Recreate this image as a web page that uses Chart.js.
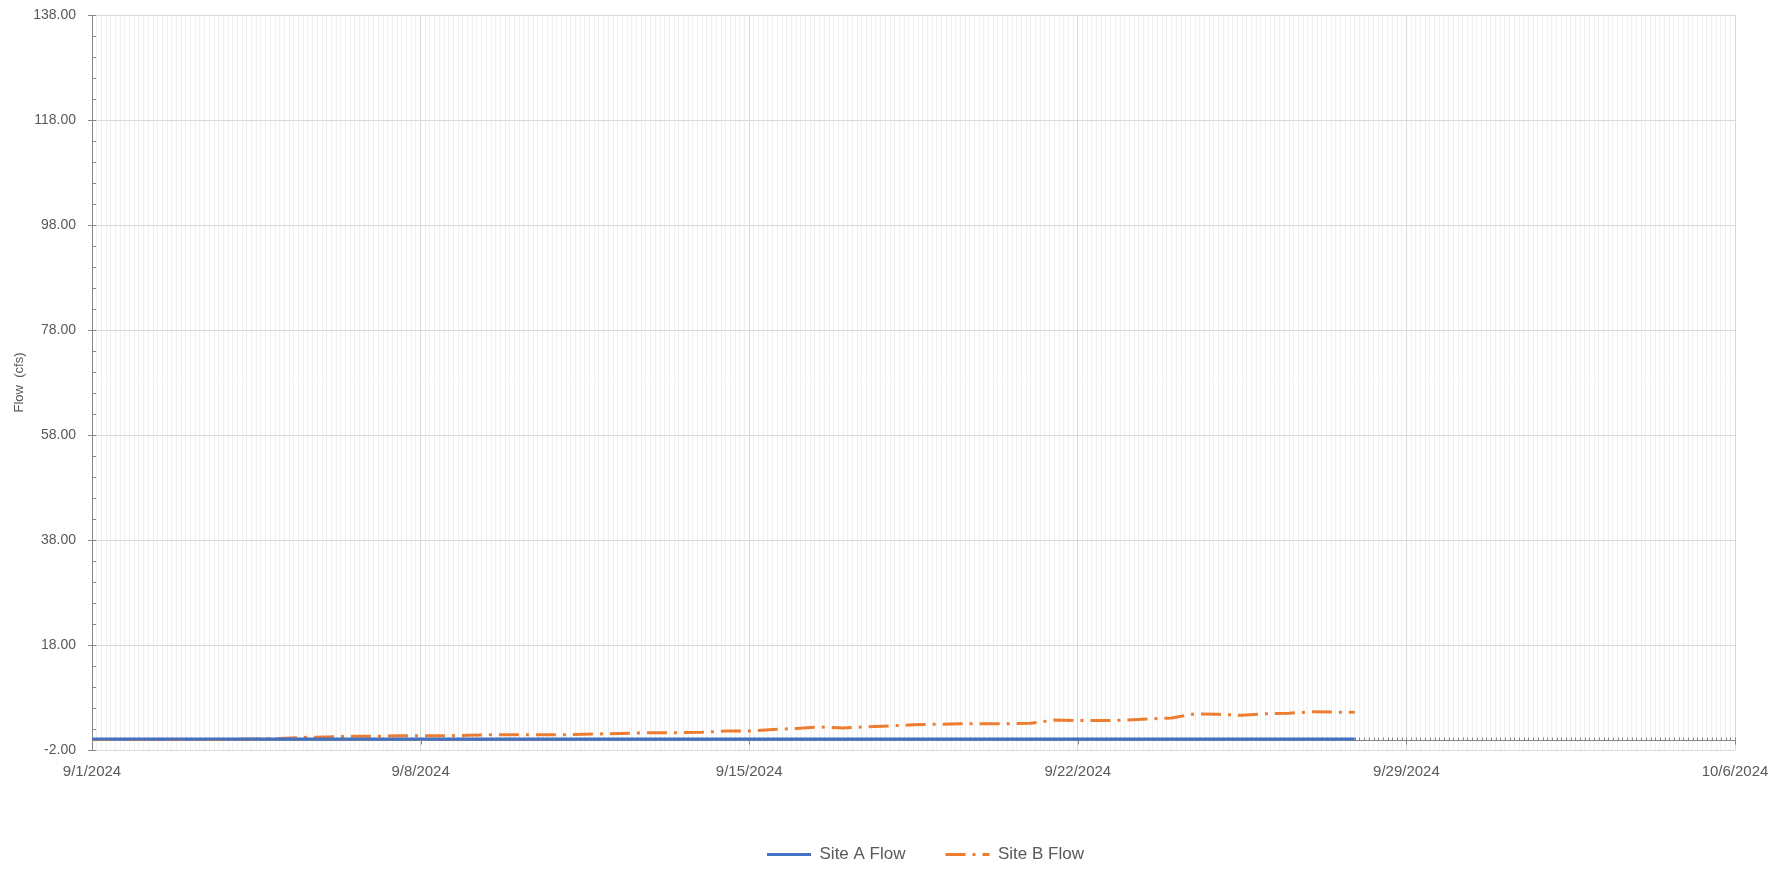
<!DOCTYPE html>
<html>
<head>
<meta charset="utf-8">
<script src="https://cdn.jsdelivr.net/npm/chart.js@4.4.1/dist/chart.umd.min.js"></script>
<style>
  html, body { margin: 0; padding: 0; background: #ffffff; }
  #wrap { width: 1790px; height: 870px; }
</style>
</head>
<body>
<div id="wrap"><canvas id="flowChart" width="1790" height="870"></canvas></div>
<script>
// days after 9/1/2024 00:00
const sampleDays = [
  0, 0.5, 1, 1.5, 2, 2.5, 3, 3.5, 4, 4.5,
  5, 5.5, 6, 6.5, 7, 7.5, 8, 8.5, 9, 9.5,
  10, 10.5, 11, 11.5, 12, 12.5, 13, 13.5, 14, 14.5,
  15, 15.5, 16, 16.5, 17, 17.5, 18, 18.5, 19, 19.5,
  20, 20.5, 21, 21.5, 22, 22.5, 23, 23.5, 24, 24.5,
  25, 25.5, 26, 26.5, 26.9
];

const siteAFlow = [
  0.1, 0.1, 0.1, 0.1, 0.1, 0.1, 0.1, 0.1, 0.1, 0.1,
  0.1, 0.1, 0.1, 0.1, 0.1, 0.1, 0.1, 0.1, 0.1, 0.1,
  0.1, 0.1, 0.1, 0.1, 0.1, 0.1, 0.1, 0.1, 0.1, 0.1,
  0.1, 0.1, 0.1, 0.1, 0.1, 0.1, 0.1, 0.1, 0.1, 0.1,
  0.1, 0.1, 0.1, 0.1, 0.1, 0.1, 0.1, 0.1, 0.1, 0.1,
  0.1, 0.1, 0.1, 0.1, 0.1
];

const siteBFlow = [
  0.0, 0.0, 0.0, 0.0, 0.0, 0.0, 0.0, 0.1, 0.2, 0.4,
  0.5, 0.6, 0.6, 0.7, 0.7, 0.7, 0.8, 0.9, 0.9, 0.9,
  0.9, 1.0, 1.1, 1.2, 1.3, 1.3, 1.4, 1.6, 1.6, 1.9,
  2.1, 2.4, 2.2, 2.4, 2.6, 2.8, 2.9, 3.0, 3.0, 3.0,
  3.1, 3.7, 3.6, 3.6, 3.7, 3.9, 4.1, 4.9, 4.8, 4.6,
  4.9, 5.0, 5.3, 5.2, 5.2
];

const seriesNames = ['Site A Flow', 'Site B Flow'];
const xRange = [0, 35];      // 9/1/2024 .. 10/6/2024
const yRange = [-2, 138];
const yStep = 20;
const dayStep = 7;

const axisGray = '#868686';
const textGray = '#595959';
const fontFamily = 'Liberation Sans, Arial, sans-serif';

function dayLabel(v) {
  const d = new Date(2024, 8, 1 + Math.round(v));
  return (d.getMonth() + 1) + '/' + d.getDate() + '/' + d.getFullYear();
}

function toPoints(xs, ys) {
  return xs.map((x, i) => ({ x: x, y: ys[i] }));
}

// axis line at zero with its small ticks, plus minor ticks on the value axis
const axisDecor = {
  id: 'axisDecor',
  afterLayout(chart) {
    // legend sits a bit right of the centre in the original
    chart.legend.left += 58;
    chart.legend.right += 58;
  },
  beforeDatasetsDraw(chart) {
    const { ctx, chartArea } = chart;
    const x = chart.scales.x;
    const y = chart.scales.y;
    const y0 = Math.round(y.getPixelForValue(0)) + 0.5;
    ctx.save();
    ctx.strokeStyle = axisGray;
    ctx.lineWidth = 1;
    ctx.beginPath();
    ctx.moveTo(chartArea.left, y0);
    ctx.lineTo(chartArea.right, y0);
    for (let i = 0; i <= 350; i++) {
      const px = Math.round(x.getPixelForValue(i / 10)) + 0.5;
      if (i % 70 === 0) {
        ctx.moveTo(px, y0 - 3);
        ctx.lineTo(px, y0 + 4);
      } else {
        ctx.moveTo(px, y0 - 3);
        ctx.lineTo(px, y0);
      }
    }
    for (let v = yRange[0]; v <= yRange[1]; v += 4) {
      const py = Math.round(y.getPixelForValue(v)) + 0.5;
      ctx.moveTo(chartArea.left, py);
      ctx.lineTo(chartArea.left + 4, py);
    }
    ctx.stroke();
    ctx.restore();
  }
};

new Chart(document.getElementById('flowChart'), {
  type: 'line',
  data: {
    datasets: [
      {
        label: seriesNames[0],
        data: toPoints(sampleDays, siteAFlow),
        borderColor: '#4472C4',
        backgroundColor: '#4472C4',
        borderWidth: 3,
        pointRadius: 0,
        pointStyle: 'line',
        tension: 0
      },
      {
        label: seriesNames[1],
        data: toPoints(sampleDays, siteBFlow),
        borderColor: '#ED7D31',
        backgroundColor: '#ED7D31',
        borderWidth: 3,
        borderDash: [20, 7, 3, 7],
        pointRadius: 0,
        pointStyle: 'line',
        tension: 0
      }
    ]
  },
  options: {
    responsive: false,
    animation: false,
    layout: { padding: { top: 15, right: 55, bottom: -3, left: 0 } },
    plugins: {
      tooltip: { enabled: false },
      legend: {
        position: 'bottom',
        labels: {
          usePointStyle: true,
          pointStyleWidth: 44,
          color: textGray,
          padding: 40,
          font: { family: fontFamily, size: 17 },
          generateLabels(chart) {
            const items = Chart.defaults.plugins.legend.labels.generateLabels(chart);
            items.forEach(it => {
              const ds = chart.data.datasets[it.datasetIndex];
              it.lineDash = ds.borderDash || [];
              it.lineWidth = ds.borderWidth;
              it.strokeStyle = ds.borderColor;
            });
            return items;
          }
        }
      }
    },
    scales: {
      xMinor: {
        type: 'linear',
        position: 'bottom',
        min: xRange[0],
        max: xRange[1],
        display: true,
        afterFit(scale) { scale.height = 0; },
        border: { display: false },
        ticks: { display: false, stepSize: 0.1, autoSkip: false },
        grid: {
          drawTicks: false,
          color(c) {
            const v = c.tick ? c.tick.value : 0;
            const r = v / dayStep;
            return Math.abs(r - Math.round(r)) < 1e-6 ? 'rgba(0,0,0,0)' : '#f0f0f0';
          }
        }
      },
      x: {
        type: 'linear',
        position: 'bottom',
        min: xRange[0],
        max: xRange[1],
        afterFit(scale) { scale.height = 56; },
        border: { display: false },
        ticks: {
          stepSize: dayStep,
          padding: 13,
          color: textGray,
          maxRotation: 0,
          font: { family: fontFamily, size: 15 },
          callback: (v) => dayLabel(v)
        },
        grid: { drawTicks: false, color: '#d9d9d9' }
      },
      y: {
        type: 'linear',
        min: yRange[0],
        max: yRange[1],
        afterFit(scale) {
          scale.width = 92;
          scale.paddingTop = 0;
          scale.paddingBottom = 0;
        },
        border: { display: true, color: axisGray },
        ticks: {
          stepSize: yStep,
          padding: 12,
          color: textGray,
          font: { family: fontFamily, size: 14 },
          callback: (v) => v.toFixed(2)
        },
        grid: { color: '#d9d9d9', tickLength: 4, tickColor: axisGray },
        title: {
          display: true,
          text: 'Flow  (cfs)',
          color: textGray,
          padding: { top: 12, bottom: 0 },
          font: { family: fontFamily, size: 13 }
        }
      }
    }
  },
  plugins: [axisDecor]
});
</script>
</body>
</html>
